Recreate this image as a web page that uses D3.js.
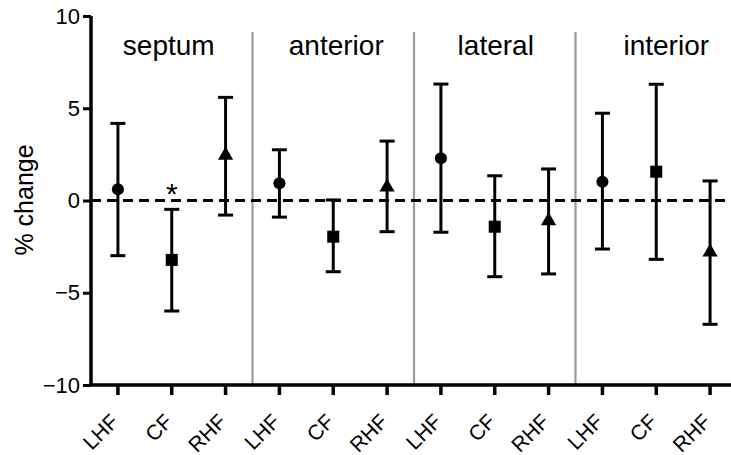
<!DOCTYPE html>
<html>
<head>
<meta charset="utf-8">
<script src="https://cdn.jsdelivr.net/npm/d3@7"></script>
<style>
  body { margin: 0; background: #fff; }
  svg { font-family: Arial, "Liberation Sans", sans-serif; }
</style>
</head>
<body>
<div id="chart"></div>
<script>
// data
const groups = ["septum", "anterior", "lateral", "interior"];
const positions = ["LHF", "CF", "RHF"];
const means = [0.61, -3.22, 2.45, 0.93, -1.96, 0.72, 2.29, -1.42, -1.1, 1.02, 1.56, -2.8];
const upper = [4.18, -0.48, 5.59, 2.75, 0.03, 3.22, 6.31, 1.34, 1.71, 4.73, 6.30, 1.06];
const lower = [-2.99, -5.99, -0.79, -0.9, -3.86, -1.69, -1.72, -4.13, -3.98, -2.63, -3.19, -6.71];
const yTicks = [-10, -5, 0, 5, 10];
const starred = [1]; // septum CF

const width = 731, height = 455;
const font = 'Arial, "Liberation Sans", sans-serif';
const labelNudge = [-3, 3, 1, 10];

const svg = d3.select('#chart').append('svg')
  .attr('width', width)
  .attr('height', height);

const keys = [];
groups.forEach(g => positions.forEach(p => keys.push(g + '|' + p)));

const x = d3.scaleBand().domain(keys).range([91, 737]);
const y = d3.scaleLinear().domain([-10, 10]).range([385, 16]);
const cx = k => x(k) + x.bandwidth() / 2;

// group separators
svg.selectAll('line.sep')
  .data(groups.slice(1))
  .enter().append('line')
  .attr('x1', g => x(g + '|LHF'))
  .attr('x2', g => x(g + '|LHF'))
  .attr('y1', 32)
  .attr('y2', y(-10))
  .attr('stroke', '#9a9a9a')
  .attr('stroke-width', 2.2);

// group labels
svg.selectAll('text.grp')
  .data(groups)
  .enter().append('text')
  .attr('x', (g, i) => cx(g + '|CF') + labelNudge[i])
  .attr('y', 55)
  .attr('text-anchor', 'middle')
  .attr('font-size', 28)
  .text(g => g);

// zero line
svg.append('line')
  .attr('x1', 91).attr('x2', width)
  .attr('y1', y(0)).attr('y2', y(0))
  .attr('stroke', '#000')
  .attr('stroke-width', 3)
  .attr('stroke-dasharray', '10,6');

// y axis
const yAxis = svg.append('g')
  .attr('transform', 'translate(91,0)')
  .call(d3.axisLeft(y).tickValues(yTicks).tickSize(8).tickPadding(3).tickFormat(d3.format('d')));
yAxis.select('.domain').attr('stroke-width', 3.5).attr('d', `M0,${y(10)}V${y(-10)}`);
yAxis.selectAll('.tick line').attr('stroke-width', 3);
yAxis.selectAll('.tick text').attr('font-size', 22).attr('font-family', font).attr('fill', '#000');

svg.append('text')
  .attr('transform', 'translate(33,200) rotate(-90)')
  .attr('text-anchor', 'middle')
  .attr('font-size', 25)
  .text('% change');

// x axis
const xAxis = svg.append('g')
  .attr('transform', `translate(0,${y(-10)})`)
  .call(d3.axisBottom(x).tickSize(10).tickFormat(k => k.split('|')[1]));
xAxis.select('.domain').attr('stroke-width', 3.5).attr('d', `M89,0H${width}`);
xAxis.selectAll('.tick line').attr('stroke-width', 3.5);
xAxis.selectAll('.tick text')
  .attr('font-size', 21)
  .attr('font-family', font)
  .attr('fill', '#000')
  .attr('text-anchor', 'end')
  .attr('y', 0)
  .attr('dy', 0)
  .attr('transform', 'translate(2,38) rotate(-45)');

// error bars
const bars = svg.append('g');
bars.selectAll('line.err')
  .data(keys)
  .enter().append('line')
  .attr('x1', cx).attr('x2', cx)
  .attr('y1', (k, i) => y(upper[i]))
  .attr('y2', (k, i) => y(lower[i]))
  .attr('stroke', '#000').attr('stroke-width', 3);
[upper, lower].forEach(arr => {
  bars.selectAll(null)
    .data(keys)
    .enter().append('line')
    .attr('x1', k => cx(k) - 7.5).attr('x2', k => cx(k) + 7.5)
    .attr('y1', (k, i) => y(arr[i]))
    .attr('y2', (k, i) => y(arr[i]))
    .attr('stroke', '#000').attr('stroke-width', 3);
});

// markers
const shapes = { LHF: d3.symbolCircle, CF: d3.symbolSquare, RHF: d3.symbolTriangle };
const sizes = { LHF: 115, CF: 145, RHF: 100 };
bars.selectAll('path.mk')
  .data(keys)
  .enter().append('path')
  .attr('d', k => d3.symbol().type(shapes[k.split('|')[1]]).size(sizes[k.split('|')[1]])())
  .attr('transform', (k, i) => `translate(${cx(k)},${y(means[i])})`)
  .attr('fill', '#000');

// significance
svg.selectAll('text.star')
  .data(starred)
  .enter().append('text')
  .attr('x', i => cx(keys[i]))
  .attr('y', i => y(upper[i]) - 5)
  .attr('text-anchor', 'middle')
  .attr('font-size', 30)
  .text('*');
</script>
</body>
</html>
